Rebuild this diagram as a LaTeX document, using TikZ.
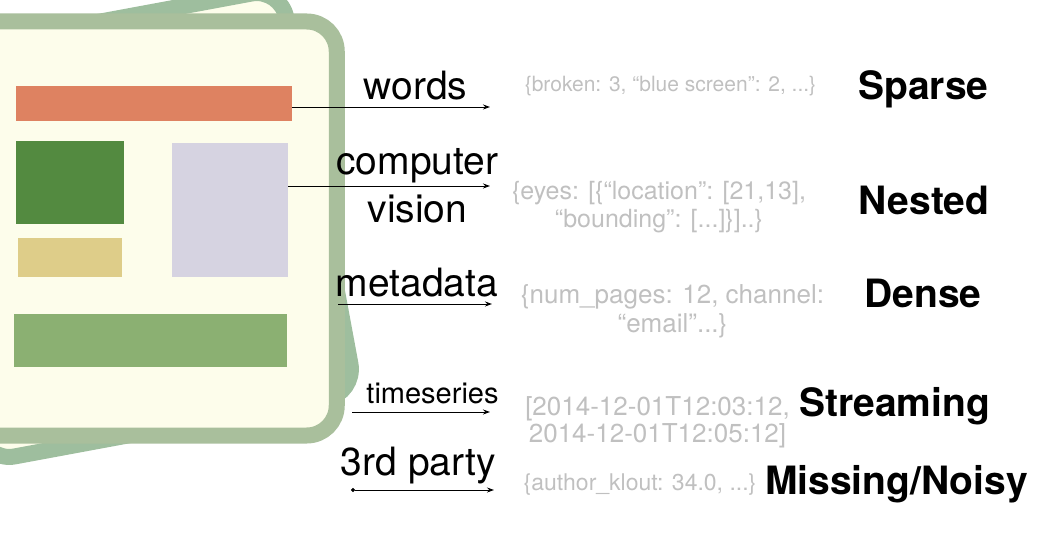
\documentclass[tikz,border=0pt]{standalone}
\usepackage{fontspec}
\setmainfont{TeX Gyre Heros}
\usetikzlibrary{arrows.meta}
\definecolor{cardfill}{HTML}{FDFDEB}
\definecolor{frontgreen}{HTML}{A9BF9C}
\definecolor{backgreen}{HTML}{9EBE9E}
\definecolor{titlebar}{HTML}{DE8261}
\definecolor{logobox}{HTML}{538A40}
\definecolor{captionbox}{HTML}{DECD89}
\definecolor{photobox}{HTML}{D6D3E1}
\definecolor{footerbar}{HTML}{8BB072}
\definecolor{notegray}{HTML}{C0C0C0}
\begin{document}
\begin{tikzpicture}[x=1pt,y=-1pt,
	card/.style={line width=16pt,rounded corners=30pt,fill=cardfill},
	block/.style={inner sep=0pt,outer sep=0pt},
	feat/.style={line width=0.9pt,-{Stealth[length=7pt,width=5pt]}},
	lbl/.style={anchor=base,inner sep=0pt,align=center,font=\fontsize{39}{48}\selectfont},
	note/.style={anchor=base,inner sep=0pt,align=center,text=notegray},
	kind/.style={anchor=base,inner sep=0pt,font=\fontsize{39}{47}\selectfont\bfseries}]
	\useasboundingbox (0,0) rectangle (1048,534);
	\clip (0,0) rectangle (1048,534);
	\draw[card,draw=backgreen] [shift={(133,225)},rotate=10.5] (-188.5,-206) rectangle (188.5,206);
	\draw[card,draw=frontgreen] (-40.25,21.5) rectangle (336.75,435.5);
	\node[block,fill=titlebar,minimum width=276pt,minimum height=35pt] (title) at (154,103.5) {};
	\node[block,fill=logobox,minimum width=108pt,minimum height=83pt] (logo) at (70,182.5) {};
	\node[block,fill=captionbox,minimum width=104pt,minimum height=39pt] (caption) at (70,257.5) {};
	\node[block,fill=photobox,minimum width=116pt,minimum height=134pt] (photo) at (230,210) {};
	\node[block,fill=footerbar,minimum width=273pt,minimum height=53pt] (footer) at (150.5,340.5) {};
	\coordinate (wordsend) at (490,107);
	\coordinate (cvend) at (490,186);
	\coordinate (metastart) at (338,304);
	\coordinate (metaend) at (492,304);
	\coordinate (tsstart) at (352,412);
	\coordinate (tsend) at (490,412);
	\coordinate (partystart) at (351,490);
	\coordinate (partyend) at (494,490);
	\draw[feat] (title.east |- wordsend) -- (wordsend);
	\draw[feat] (photo.east |- cvend) -- (cvend);
	\draw[feat] (metastart) -- (metaend);
	\draw[feat] (tsstart) -- (tsend);
	\draw[feat,{Circle[length=4pt]}-{Stealth[length=7pt,width=5pt]}] (partystart) -- (partyend);
	\node[lbl] (words) at (415.5,100) {words};
	\node[lbl] (cv) at (417.5,223) {computer\\vision};
	\node[lbl] (meta) at (417,297) {metadata};
	\node[lbl,font=\fontsize{29}{34}\selectfont] (ts) at (432.5,403) {timeseries};
	\node[lbl] (party) at (418.5,475) {3rd party};
	\node[note,font=\fontsize{21}{26}\selectfont] (wordsnote) at (670.5,92) {\{broken: 3, “blue screen”: 2, ...\}};
	\node[note,font=\fontsize{25}{28}\selectfont] (cvnote) at (659,228) {\{eyes: [\{“location”: [21,13],\\“bounding”: [...]\}]..\}};
	\node[note,font=\fontsize{26}{29}\selectfont] (metanote) at (672.5,332) {\{num\_pages: 12, channel:\\“email”...\}};
	\node[note,font=\fontsize{26}{27}\selectfont] (tsnote) at (657.5,442) {[2014-12-01T12:03:12,\\2014-12-01T12:05:12]};
	\node[note,font=\fontsize{23}{26}\selectfont] (partynote) at (640,490) {\{author\_klout: 34.0, ...\}};
	\node[kind] (sparse) at (923.5,100) {Sparse};
	\node[kind] (nested) at (924,215) {Nested};
	\node[kind] (dense) at (923,307) {Dense};
	\node[kind] (streaming) at (894.5,416) {Streaming};
	\node[kind] (noisy) at (896.5,494) {Missing/Noisy};
\end{tikzpicture}
\end{document}
